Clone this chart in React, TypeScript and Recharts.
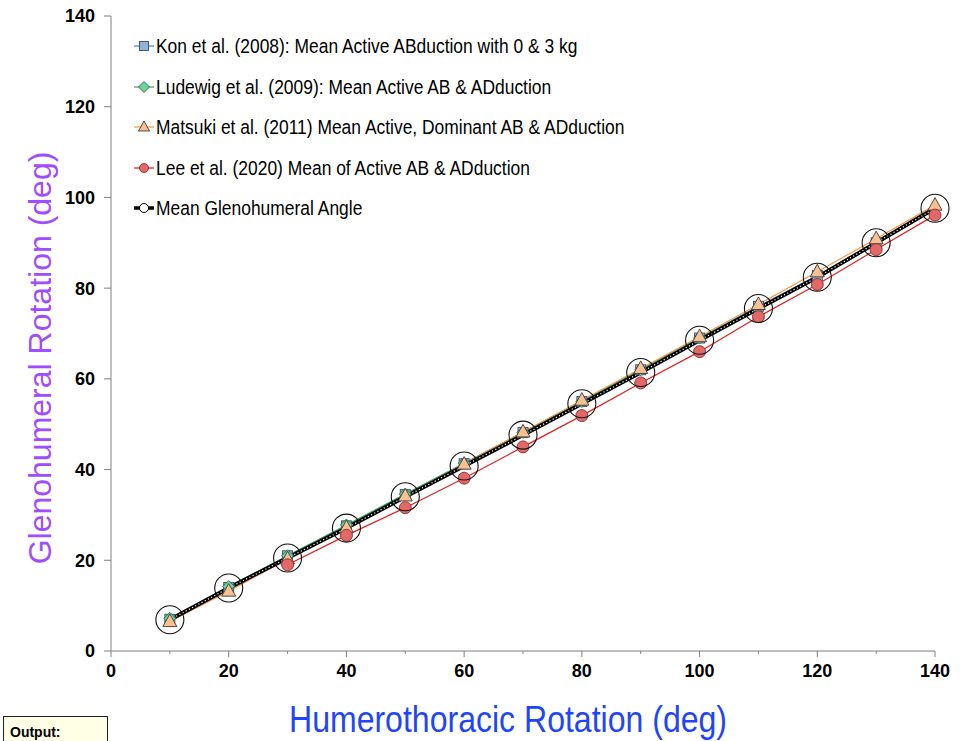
import React from "react";
import { LineChart, Line, XAxis, YAxis } from "recharts";

// humerothoracic angle (deg)
const xValues = [10, 20, 30, 40, 50, 60, 70, 80, 90, 100, 110, 120, 130, 140];

// glenohumeral angle per study (deg)
const kon = [7.0, 14.0, 21.0, 27.6, 34.5, 41.3, 48.2, 55.0, 62.0, 69.0, 76.0, 82.8, 90.0];
const ludewig = [7.2, 14.2, 21.0, 27.8, 34.6, 41.4, 48.2, 55.0, 62.0, 69.0, 75.8];
const matsuki = [6.5, 13.2, 20.3, 27.2, 34.2, 41.2, 48.3, 55.3, 62.3, 69.3, 76.4, 83.6, 90.9, 98.3];
const lee = [null, null, 19.0, 25.5, 31.6, 38.1, 45.0, 51.9, 59.1, 66.0, 73.7, 80.8, 88.5, 96.1];
const meanGH = [6.9, 13.9, 20.5, 27.1, 34.0, 40.8, 47.6, 54.5, 61.4, 68.5, 75.5, 82.4, 90.0, 97.6];

const xTicks = [0, 10, 20, 30, 40, 50, 60, 70, 80, 90, 100, 110, 120, 130, 140];
const yTicks = [0, 20, 40, 60, 80, 100, 120, 140];

const legendLabels = [
  "Kon et al. (2008): Mean Active ABduction with 0 & 3 kg",
  "Ludewig et al. (2009): Mean Active AB & ADduction",
  "Matsuki et al. (2011) Mean Active, Dominant AB & ADduction",
  "Lee et al. (2020) Mean of Active AB & ADduction",
  "Mean Glenohumeral Angle",
];

const data = xValues.map((x, i) => ({
  x,
  kon: kon[i] ?? null,
  ludewig: ludewig[i] ?? null,
  matsuki: matsuki[i] ?? null,
  lee: lee[i] ?? null,
  mean: meanGH[i] ?? null,
}));

const FONT = "'Liberation Sans', Arial, sans-serif";

const COLORS = {
  kon: { line: "#4a7ebb", fill: "#95b3d7", edge: "#30507a" },
  ludewig: { line: "#3aa05a", fill: "#6fd49a", edge: "#2b6d44" },
  matsuki: { line: "#f79646", fill: "#fac090", edge: "#3a3a3a" },
  lee: { line: "#e31f1f", fill: "#e36868", edge: "#8a2a2a" },
};

type Shape = "square" | "diamond" | "triangle" | "circle" | "ring";

const drawMarker = (shape: Shape, cx: number, cy: number, s: number, fill: string, edge: string, key?: string) => {
  if (shape === "square")
    return <rect key={key} x={cx - s / 2} y={cy - s / 2} width={s} height={s} fill={fill} stroke={edge} strokeWidth={0.9} />;
  if (shape === "diamond") {
    const h = s / 2 + 1;
    return (
      <polygon key={key} points={`${cx},${cy - h} ${cx + h},${cy} ${cx},${cy + h} ${cx - h},${cy}`} fill={fill} stroke={edge} strokeWidth={0.9} />
    );
  }
  if (shape === "triangle") {
    const h = s * 0.9;
    return (
      <polygon key={key} points={`${cx},${cy - h * 0.6} ${cx + s / 2},${cy + h * 0.4} ${cx - s / 2},${cy + h * 0.4}`} fill={fill} stroke={edge} strokeWidth={0.9} />
    );
  }
  if (shape === "ring")
    return <circle key={key} cx={cx} cy={cy} r={s / 2} fill="none" stroke="#111" strokeWidth={1.1} />;
  return <circle key={key} cx={cx} cy={cy} r={s / 2} fill={fill} stroke={edge} strokeWidth={0.9} />;
};

const dotRenderer = (shape: Shape, size: number, fill: string, edge: string) => (props: any) => {
  const { cx, cy, index, value } = props;
  const k = `${shape}-${index}`;
  if (cx == null || cy == null || value == null) return <g key={k} />;
  return drawMarker(shape, cx, cy, size, fill, edge, k);
};

const XTick = (props: any) => {
  const { x, y, payload } = props;
  const v = payload.value;
  const major = v % 20 === 0;
  return (
    <g>
      <line x1={x} x2={x} y1={y} y2={y + (major ? 6 : 3)} stroke="#808080" />
      {major && (
        <text x={x} y={y + 13} dy="0.72em" textAnchor="middle" fontFamily={FONT} fontWeight="bold" fontSize={18} fill="#000">
          {v}
        </text>
      )}
    </g>
  );
};

const renderYLabel = () => (
  <text x={40} y={358} transform="rotate(-90, 40, 358)" textAnchor="middle" dominantBaseline="central" fontFamily={FONT} fontSize={32} fill="#a04cff">
    Glenohumeral Rotation (deg)
  </text>
);

const renderXLabel = () => (
  <text x={508} y={732} textAnchor="middle" fontFamily={FONT} fontSize={37} textLength={438} lengthAdjust="spacingAndGlyphs" fill="#1f45fc">
    Humerothoracic Rotation (deg)
  </text>
);

const legendIcons: { shape: Shape; line: string; fill: string; edge: string; width: number }[] = [
  { shape: "square", line: COLORS.kon.line, fill: COLORS.kon.fill, edge: COLORS.kon.edge, width: 1.2 },
  { shape: "diamond", line: COLORS.ludewig.line, fill: COLORS.ludewig.fill, edge: COLORS.ludewig.edge, width: 1.2 },
  { shape: "triangle", line: COLORS.matsuki.line, fill: COLORS.matsuki.fill, edge: COLORS.matsuki.edge, width: 1.2 },
  { shape: "circle", line: COLORS.lee.line, fill: COLORS.lee.fill, edge: COLORS.lee.edge, width: 1.2 },
  { shape: "ring", line: "#000", fill: "none", edge: "#000", width: 3.5 },
];

const ChartLegend = () => (
  <div style={{ position: "absolute", left: 132, top: 26, width: 620, fontFamily: FONT }}>
    {legendLabels.map((label, i) => {
      const icon = legendIcons[i];
      return (
        <div key={label} style={{ height: 40.5, display: "flex", alignItems: "center" }}>
          <svg width={24} height={20} style={{ flex: "none" }}>
            <line x1={2} x2={22} y1={10} y2={10} stroke={icon.line} strokeWidth={icon.width} />
            {icon.shape === "ring" ? (
              <circle cx={12} cy={10} r={4.5} fill="#fff" stroke="#000" strokeWidth={1} />
            ) : (
              drawMarker(icon.shape, 12, 10, icon.shape === "triangle" ? 11 : 9, icon.fill, icon.edge)
            )}
          </svg>
          <span
            style={{
              fontSize: 20.5,
              whiteSpace: "nowrap",
              display: "inline-block",
              transform: "scaleX(0.85)",
              transformOrigin: "left center",
              color: "#000",
            }}
          >
            {label}
          </span>
        </div>
      );
    })}
  </div>
);

export default function App() {
  return (
    <div style={{ position: "absolute", left: 0, top: 0, width: 969, height: 741, overflow: "hidden", background: "#fff" }}>
      <LineChart width={969} height={741} data={data} margin={{ top: 16, right: 34, left: 0, bottom: 0 }}>
        <XAxis
          dataKey="x"
          type="number"
          domain={[0, 140]}
          ticks={xTicks}
          interval={0}
          height={90}
          tickSize={0}
          tickMargin={0}
          tickLine={false}
          axisLine={{ stroke: "#808080" }}
          tick={<XTick />}
          label={renderXLabel}
        />
        <YAxis
          type="number"
          domain={[0, 140]}
          ticks={yTicks}
          interval={0}
          width={111}
          tickSize={7}
          tickMargin={9}
          tickLine={{ stroke: "#808080" }}
          axisLine={{ stroke: "#808080" }}
          tick={{ fontFamily: FONT, fontWeight: "bold", fontSize: 18, fill: "#000" }}
          label={renderYLabel}
        />
        <Line
          dataKey="kon"
          stroke={COLORS.kon.line}
          strokeWidth={1.2}
          dot={dotRenderer("square", 10, COLORS.kon.fill, COLORS.kon.edge)}
          isAnimationActive={false}
        />
        <Line
          dataKey="ludewig"
          stroke={COLORS.ludewig.line}
          strokeWidth={1.2}
          dot={dotRenderer("diamond", 10, COLORS.ludewig.fill, COLORS.ludewig.edge)}
          isAnimationActive={false}
        />
        <Line
          dataKey="matsuki"
          stroke={COLORS.matsuki.line}
          strokeWidth={1.2}
          dot={dotRenderer("triangle", 14, COLORS.matsuki.fill, COLORS.matsuki.edge)}
          isAnimationActive={false}
        />
        <Line
          dataKey="lee"
          stroke={COLORS.lee.line}
          strokeWidth={1.2}
          dot={dotRenderer("circle", 12, COLORS.lee.fill, COLORS.lee.edge)}
          isAnimationActive={false}
        />
        <Line
          dataKey="mean"
          stroke="#000"
          strokeWidth={4}
          dot={dotRenderer("ring", 28, "none", "#111")}
          isAnimationActive={false}
        />
        <Line
          dataKey="mean"
          stroke="#fff"
          strokeWidth={1.2}
          strokeDasharray="1.2 2.4"
          dot={false}
          legendType="none"
          isAnimationActive={false}
        />
      </LineChart>
      <ChartLegend />
      <div
        style={{
          position: "absolute",
          left: 3,
          top: 716,
          width: 105,
          height: 30,
          boxSizing: "border-box",
          background: "#ffffe6",
          border: "1px solid #222",
          borderBottom: "none",
          padding: "7px 6px 0",
          fontFamily: FONT,
          fontWeight: "bold",
          fontSize: 14,
          lineHeight: "16px",
        }}
      >
        Output:
      </div>
    </div>
  );
}
